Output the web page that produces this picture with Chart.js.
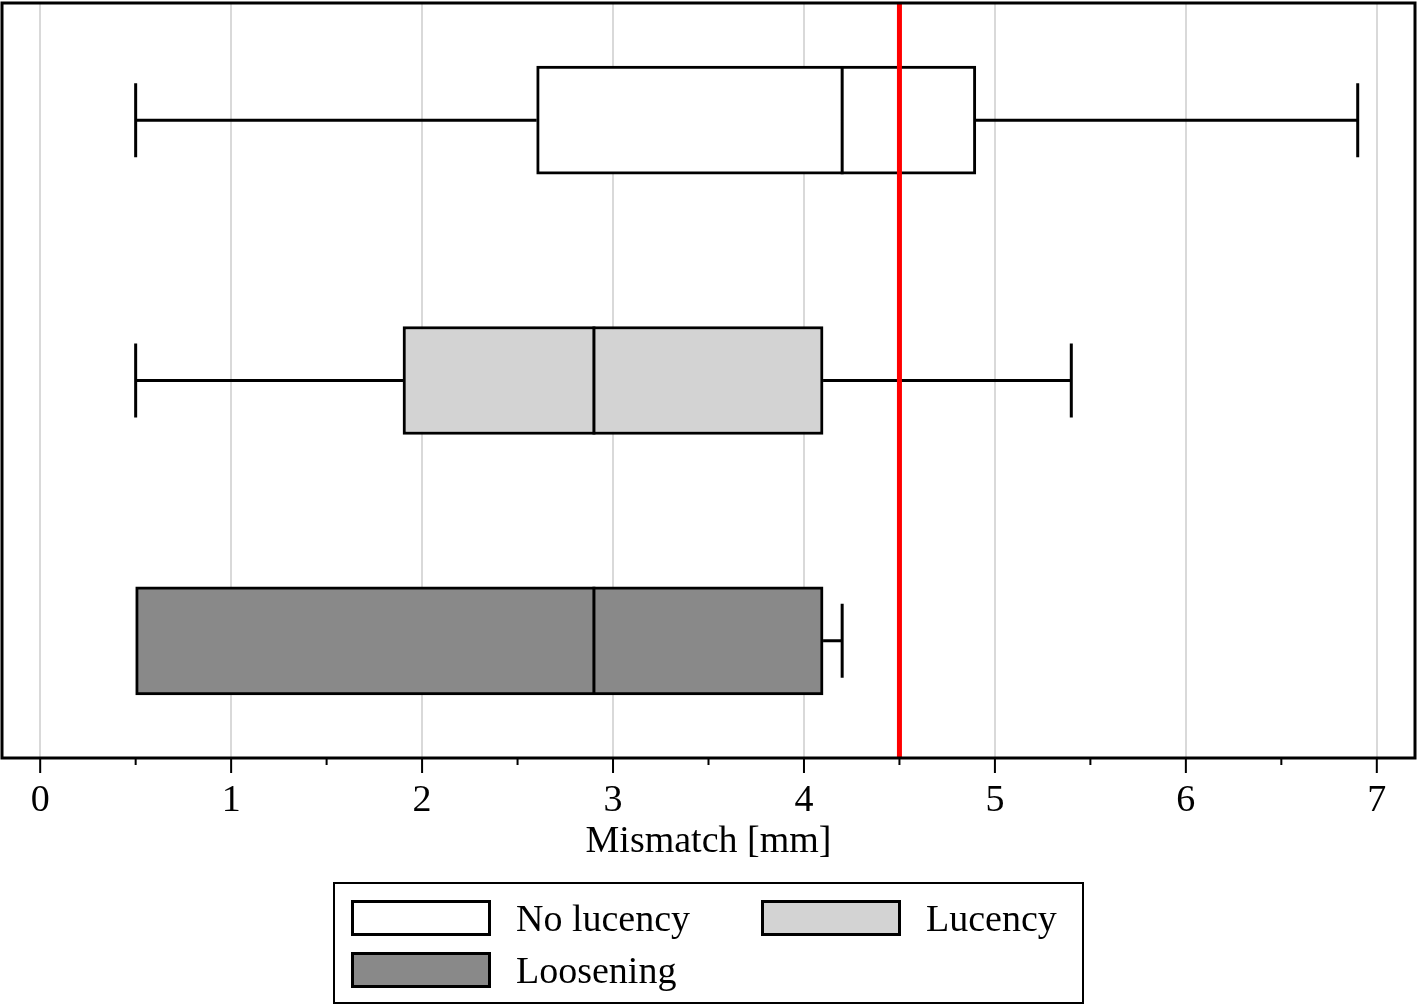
<!DOCTYPE html>
<html>
<head>
<meta charset="utf-8">
<script src="https://cdn.jsdelivr.net/npm/chart.js@4.4.1/dist/chart.umd.min.js"></script>
<style>
html, body { margin: 0; padding: 0; background: #fff; }
#wrap { position: relative; width: 1418px; height: 1007px; }
#legend {
    position: absolute; left: 333px; top: 882px; width: 751px; height: 122px;
    border: 2px solid #000; box-sizing: border-box;
    font-family: "Liberation Serif", "DejaVu Serif", serif; font-size: 38px; color: #000;
}
.item { position: absolute; display: flex; align-items: center; height: 36px; }
.sw { width: 140px; height: 36px; border: 3px solid #000; box-sizing: border-box; margin-right: 25px; }
</style>
</head>
<body>
<div id="wrap">
    <canvas id="boxChart"></canvas>
    <div id="legend"></div>
</div>
<script>
// Box plot values (mm)
const groups = ['No lucency', 'Lucency', 'Loosening'];
const whiskerLow = [0.5, 0.5, 0.5];
const q1 = [2.6, 1.9, 0.5];
const median = [4.2, 2.9, 2.9];
const q3 = [4.9, 4.1, 4.1];
const whiskerHigh = [6.9, 5.4, 4.2];
const threshold = 4.5;
const xTickLabels = ['0', '1', '2', '3', '4', '5', '6', '7'];
const fills = ['#ffffff', '#d3d3d3', '#898989'];

// whiskers, medians, threshold line, frame and tick marks
const boxExtras = {
    id: 'boxExtras',
    afterDatasetsDraw(chart) {
        const c = chart.ctx;
        const xs = chart.scales.x, ys = chart.scales.y;
        const cap = 37;
        const half = 54;
        c.save();
        c.strokeStyle = '#000';
        c.lineWidth = 3;
        groups.forEach((g, i) => {
            const y = ys.getPixelForValue(i);
            const xLo = xs.getPixelForValue(whiskerLow[i]);
            const xQ1 = xs.getPixelForValue(q1[i]);
            const xQ3 = xs.getPixelForValue(q3[i]);
            const xHi = xs.getPixelForValue(whiskerHigh[i]);
            const xMed = xs.getPixelForValue(median[i]);
            c.beginPath();
            if (whiskerLow[i] < q1[i]) {
                c.moveTo(xLo, y); c.lineTo(xQ1, y);
                c.moveTo(xLo, y - cap); c.lineTo(xLo, y + cap);
            }
            if (whiskerHigh[i] > q3[i]) {
                c.moveTo(xQ3, y); c.lineTo(xHi, y);
                c.moveTo(xHi, y - cap); c.lineTo(xHi, y + cap);
            }
            c.moveTo(xMed, y - half); c.lineTo(xMed, y + half);
            c.stroke();
        });
        // threshold
        const a = chart.chartArea;
        const xt = xs.getPixelForValue(threshold);
        c.strokeStyle = '#ff0000';
        c.lineWidth = 5;
        c.beginPath();
        c.moveTo(xt, a.top); c.lineTo(xt, a.bottom);
        c.stroke();
        // frame
        c.strokeStyle = '#000';
        c.lineWidth = 3;
        c.strokeRect(a.left, a.top, a.right - a.left, a.bottom - a.top);
        // tick marks
        c.lineWidth = 2;
        c.beginPath();
        for (let v = 0; v <= 7; v += 0.5) {
            const px = xs.getPixelForValue(v);
            c.moveTo(px, a.bottom);
            c.lineTo(px, a.bottom + (v % 1 === 0 ? 15 : 7));
        }
        c.stroke();
        c.restore();
    }
};

const ctx = document.getElementById('boxChart').getContext('2d');
const chart = new Chart(ctx, {
    type: 'bar',
    data: {
        datasets: [{
            data: groups.map((g, i) => ({ x: [q1[i], q3[i]], y: i })),
            backgroundColor: fills,
            borderColor: '#000',
            borderWidth: 3,
            borderSkipped: false,
            barThickness: 108
        }]
    },
    options: {
        indexAxis: 'y',
        responsive: true,
        maintainAspectRatio: false,
        animation: false,
        layout: { padding: { left: 2, right: 3, top: 3, bottom: 142 } },
        plugins: {
            legend: { display: false },
            tooltip: { enabled: false }
        },
        scales: {
            x: {
                type: 'linear',
                min: -0.2,
                max: 7.2,
                border: { display: false },
                afterFit: (scale) => { scale.height = 107; },
                grid: {
                    drawTicks: false,
                    lineWidth: 2,
                    color: (c) => (c.tick && c.tick.value % 1 === 0) ? '#d9d9d9' : 'rgba(0,0,0,0)'
                },
                ticks: {
                    stepSize: 0.5,
                    includeBounds: false,
                    autoSkip: false,
                    maxRotation: 0,
                    padding: 20,
                    color: '#000',
                    font: { family: '"Liberation Serif"', size: 38 },
                    callback: (v) => v % 1 === 0 ? xTickLabels[v] : ''
                },
                title: {
                    display: true,
                    text: 'Mismatch [mm]',
                    color: '#000',
                    padding: { top: 0, bottom: 0 },
                    font: { family: '"Liberation Serif"', size: 38 }
                }
            },
            y: {
                type: 'linear',
                min: -0.45,
                max: 2.45,
                offset: false,
                reverse: true,
                display: false
            }
        }
    },
    plugins: [boxExtras]
});

// legend (2 columns)
const legendPos = [[16, 16], [426, 16], [16, 68]];
const legendEl = document.getElementById('legend');
groups.forEach((g, i) => {
    const item = document.createElement('div');
    item.className = 'item';
    item.style.left = legendPos[i][0] + 'px';
    item.style.top = legendPos[i][1] + 'px';
    item.innerHTML = '<div class="sw" style="background:' + fills[i] + '"></div><span>' + g + '</span>';
    legendEl.appendChild(item);
});
</script>
</body>
</html>
